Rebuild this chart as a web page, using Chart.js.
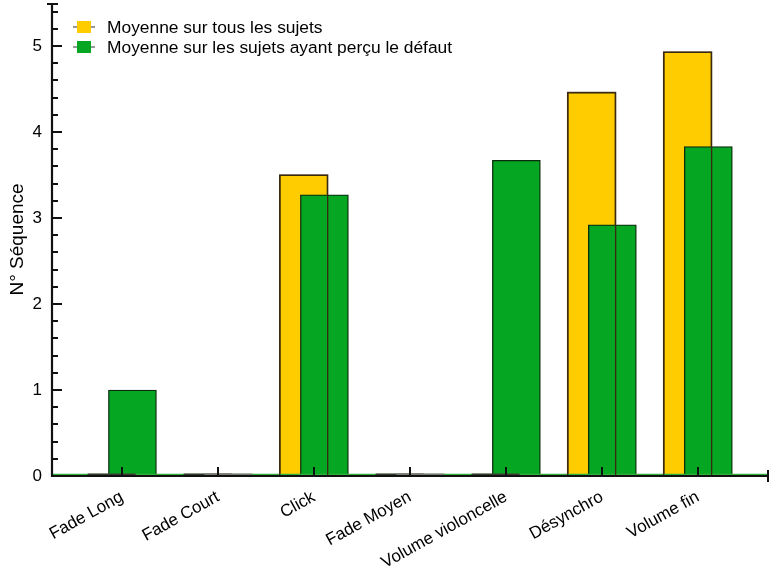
<!DOCTYPE html>
<html>
<head>
<meta charset="utf-8">
<script src="https://cdn.jsdelivr.net/npm/chart.js@4"></script>
<style>
html,body{margin:0;padding:0;background:#fff;}
#wrap{width:777px;height:572px;position:relative;}
</style>
</head>
<body>
<div id="wrap"><canvas id="c" width="777" height="572"></canvas></div>
<script>
const categories = ["Fade Long","Fade Court","Click","Fade Moyen","Volume violoncelle","Désynchro","Volume fin"];
const seriesNames = ["Moyenne sur tous les sujets","Moyenne sur les sujets ayant perçu le défaut"];
const allSubjects = [0, 0, 3.5, 0, 0, 4.46, 4.93];
const perceivedSubjects = [1.0, 0, 3.27, 0, 3.67, 2.92, 3.83];
const yTicks = [0, 1, 2, 3, 4, 5];

const FONT = '"Liberation Sans", Arial, Helvetica, sans-serif';
const YELLOW = '#FFCC00';
const GREEN = '#05A622';
const DARK = '#111';

const shift = 0.108;
const toPoints = (vals, off) => vals.map((v, i) => ({x: i + off, y: v}));

const overlayPlugin = {
  id: 'overlay',
  afterDatasetsDraw(chart) {
    const ctx = chart.ctx;
    const xs = chart.scales.x, ys = chart.scales.y;
    const area = chart.chartArea;
    const y0 = ys.getPixelForValue(0);
    ctx.save();
    // green baseline
    ctx.strokeStyle = '#2fb03a';
    ctx.lineWidth = 1.5;
    ctx.beginPath(); ctx.moveTo(area.left, y0 - 1.5); ctx.lineTo(area.right, y0 - 1.5); ctx.stroke();
    // collapsed (zero) bars
    [[0, allSubjects, '#3a3a30'], [1, perceivedSubjects, '#7a7a74']].forEach(([di, vals, col]) => {
      const meta = chart.getDatasetMeta(di);
      ctx.strokeStyle = col;
      ctx.lineWidth = 2;
      ctx.beginPath();
      meta.data.forEach((bar, i) => {
        if (vals[i] !== 0) return;
        const p = bar.getProps(['x','width'], true);
        ctx.moveTo(p.x - p.width/2, y0 - 1.5); ctx.lineTo(p.x + p.width/2, y0 - 1.5);
      });
      ctx.stroke();
    });
    // yellow outlines visible through green bars
    const meta = chart.getDatasetMeta(0);
    ctx.strokeStyle = '#3a2a12';
    ctx.lineWidth = 1.3;
    meta.data.forEach((bar, i) => {
      if (allSubjects[i] <= 0) return;
      const p = bar.getProps(['x','y','base','width'], true);
      ctx.strokeRect(p.x - p.width/2, p.y, p.width, p.base - p.y);
    });
    // axes
    ctx.strokeStyle = DARK;
    ctx.lineWidth = 2.2;
    ctx.beginPath();
    ctx.moveTo(area.left, area.top); ctx.lineTo(area.left, y0 + 1);
    ctx.moveTo(area.left - 1, y0); ctx.lineTo(area.right, y0);
    ctx.stroke();
    ctx.lineWidth = 2;
    ctx.beginPath();
    ctx.moveTo(area.left - 5, area.top + 1); ctx.lineTo(area.left + 6, area.top + 1);
    ctx.moveTo(area.right - 1, y0 - 6); ctx.lineTo(area.right - 1, y0 + 6);
    for (let v = 0; v <= 5.4001; v += 0.2) {
      const py = Math.round(ys.getPixelForValue(v));
      const major = Math.abs(v - Math.round(v)) < 1e-6;
      ctx.moveTo(area.left, py); ctx.lineTo(area.left + (major ? 10 : 6), py);
    }
    categories.forEach((c, i) => {
      const px = Math.round(xs.getPixelForValue(i));
      ctx.moveTo(px, y0); ctx.lineTo(px, y0 - 9);
    });
    ctx.stroke();
    // legend
    const items = [[YELLOW, seriesNames[0], 27], [GREEN, seriesNames[1], 47]];
    ctx.font = '17.4px ' + FONT;
    ctx.textBaseline = 'middle';
    items.forEach(([col, txt, ly]) => {
      ctx.strokeStyle = '#333';
      ctx.lineWidth = 1;
      ctx.beginPath(); ctx.moveTo(73, ly); ctx.lineTo(95, ly); ctx.stroke();
      ctx.fillStyle = col;
      ctx.fillRect(77, ly - 6, 14, 12);
      ctx.fillStyle = '#000';
      ctx.fillText(txt, 107, ly + 1);
    });
    ctx.restore();
  }
};

new Chart(document.getElementById('c'), {
  type: 'bar',
  data: {
    datasets: [
      {
        label: seriesNames[0],
        data: toPoints(allSubjects, -shift),
        backgroundColor: YELLOW,
        borderColor: '#3a2a12',
        borderWidth: 1.3,
        borderSkipped: 'bottom',
        barThickness: 48,
        grouped: false,
        order: 1
      },
      {
        label: seriesNames[1],
        data: toPoints(perceivedSubjects, shift),
        backgroundColor: GREEN,
        borderColor: '#0b2a0e',
        borderWidth: 1.3,
        borderSkipped: 'bottom',
        barThickness: 48,
        grouped: false,
        order: 0
      }
    ]
  },
  options: {
    responsive: false,
    animation: false,
    layout: {padding: {top: 3, right: 8, left: 0, bottom: 0}},
    plugins: {legend: {display: false}, tooltip: {enabled: false}},
    scales: {
      x: {
        type: 'linear',
        offset: false,
        min: -0.73,
        max: 6.74,
        grid: {display: false, drawTicks: false},
        border: {display: false},
        afterBuildTicks: s => { s.ticks = categories.map((c, i) => ({value: i})); },
        afterFit: s => { s.height = 96; s.paddingLeft = 0; s.paddingRight = 0; },
        ticks: {
          autoSkip: false,
          maxRotation: 29,
          minRotation: 29,
          padding: 11,
          color: '#000',
          font: {family: FONT, size: 17},
          callback: v => categories[v]
        }
      },
      y: {
        min: 0,
        max: 5.5,
        grid: {display: false, drawTicks: false},
        border: {display: false},
        afterBuildTicks: s => { s.ticks = yTicks.map(v => ({value: v})); },
        afterFit: s => { s.width = 52; s.paddingTop = 0; s.paddingBottom = 0; },
        ticks: {
          padding: 10,
          color: '#000',
          font: {family: FONT, size: 17}
        },
        title: {
          display: true,
          text: 'N° Séquence',
          color: '#000',
          font: {family: FONT, size: 19},
          padding: {top: 6, bottom: 0}
        }
      }
    }
  },
  plugins: [overlayPlugin]
});
</script>
</body>
</html>
